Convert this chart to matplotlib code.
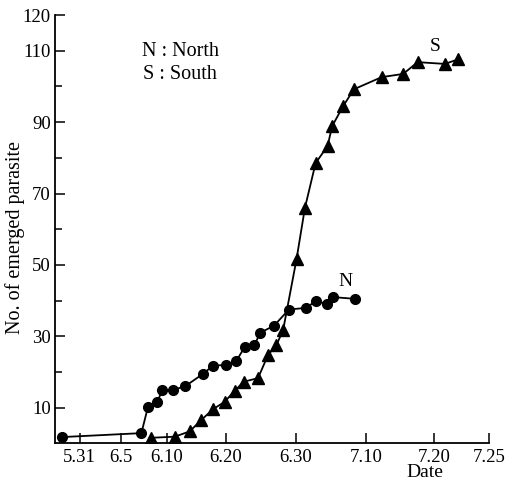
import numpy as np
import matplotlib.pyplot as plt

plt.rcParams['font.family'] = ['Liberation Serif', 'DejaVu Serif']

# x axis: days counted from May 31; the original axis is ruled unevenly,
# so tick dates are mapped onto their drawn positions
tick_days = [0, 5, 10, 20, 30, 40, 50, 55]
tick_labels = ['5.31', '6.5', '6.10', '6.20', '6.30', '7.10', '7.20', '7.25']
tick_pos = [80, 121, 167, 226, 296, 366, 434, 489]

# North (circles)
north_day = [-2.1, 7.25, 7.97, 8.95, 9.53, 11.07, 13.1, 16.15, 17.85, 20.07, 21.47,
             22.7, 24.1, 24.9, 26.9, 29.0, 31.5, 32.9, 34.4, 35.3, 38.5]
north_n = [1.8, 2.9, 10.3, 11.5, 15, 15, 16, 19.5, 21.8, 22, 23,
           27, 27.5, 31, 33, 37.5, 38, 40, 39, 41, 40.5]

# South (triangles)
south_day = [8.34, 11.36, 13.9, 15.87, 17.85, 19.83, 21.29, 22.57, 24.6, 26.04, 27.24, 28.19,
             30.1, 31.29, 32.82, 34.53, 35.19, 36.76, 38.29, 42.31, 45.48, 47.6, 51.0, 52.2]
south_n = [1.6, 1.9, 3.4, 6.6, 9.6, 11.7, 14.8, 17.3, 18.3, 24.8, 27.6, 31.8,
           51.6, 65.9, 78.5, 83.3, 88.9, 94.5, 99.2, 102.6, 103.5, 106.8, 106.3, 107.6]

d_ext = [-10] + tick_days + [65]
p_ext = [-2] + tick_pos + [599]


def fwd(x):
    return np.interp(x, d_ext, p_ext)


def inv(p):
    return np.interp(p, p_ext, d_ext)


fig = plt.figure(figsize=(5.07, 4.84), dpi=100)
ax = fig.add_axes([0.1085, 0.0837, 0.856, 0.8853])
ax.set_xscale('function', functions=(fwd, inv))

ax.plot(north_day, north_n, color='black', lw=1.3, marker='o', ms=7)
ax.plot(south_day, south_n, color='black', lw=1.3, marker='^', ms=8)

ax.text(37.1, 45.5, 'N', fontsize=14, ha='center', va='center')
ax.text(50.1, 111.3, 'S', fontsize=14, ha='center', va='center')
ax.text(12.3, 109.7, 'N : North', fontsize=14.5, ha='center', va='center')
ax.text(12.3, 103.2, 'S : South', fontsize=14.5, ha='center', va='center')

ax.set_xlim(-3, 55)
ax.set_ylim(0, 120)
ax.set_xticks(tick_days)
ax.set_xticklabels(tick_labels)
ax.set_yticks([10, 30, 50, 70, 90, 110, 120])
ax.set_yticks([20, 40, 60, 80, 100], minor=True)
ax.xaxis.set_minor_locator(plt.NullLocator())

ax.tick_params(axis='both', which='major', direction='in', length=7, width=1.1, labelsize=13.5)
ax.tick_params(axis='y', which='minor', direction='in', length=5, width=1.1)
ax.tick_params(axis='x', pad=4)
ax.tick_params(axis='y', pad=3)

for s in ['top', 'right']:
    ax.spines[s].set_visible(False)
for s in ['left', 'bottom']:
    ax.spines[s].set_linewidth(1.3)

ax.set_ylabel('No. of emerged parasite', fontsize=14.5)
ax.yaxis.set_label_coords(-0.068, 0.48)
fig.text(0.838, 0.006, 'Date', fontsize=14, ha='center', va='bottom')

fig.savefig('out.png', dpi=100)
